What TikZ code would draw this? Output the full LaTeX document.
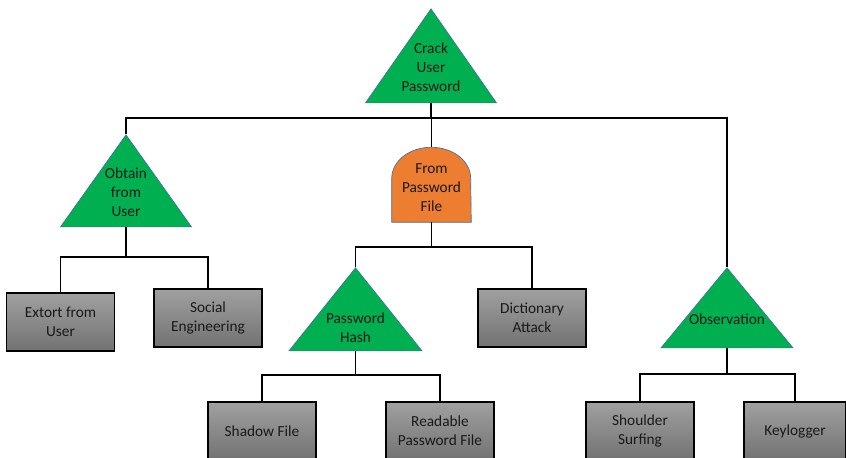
\documentclass[tikz,border=0pt]{standalone}
\usepackage{fontspec}
\setmainfont{Carlito}
\usetikzlibrary{shapes.geometric,positioning}

\definecolor{goalgreen}{HTML}{00B050}
\definecolor{gateorange}{HTML}{ED7D31}
\definecolor{rimblue}{HTML}{41719C}
\definecolor{leaftop}{HTML}{A0A0A0}
\definecolor{leafbot}{HTML}{727272}

\begin{document}
\begin{tikzpicture}[x=0.75pt,y=-0.75pt,on grid,
		font=\fontsize{11.5}{14.25}\selectfont,
		goal/.style={isosceles triangle,shape border rotate=90,isosceles triangle stretches,
			fill=goalgreen,draw=rimblue,line width=0.5pt,inner sep=0pt,anchor=apex},
		caption/.style={align=center,inner sep=0pt,text=black!90},
		orgate/.style={minimum width=59.25pt,minimum height=56.25pt,inner sep=0pt},
		leaf/.style={rectangle,draw=black,line width=0.8pt,top color=leaftop,bottom color=leafbot,
			minimum width=81pt,minimum height=43.5pt,inner sep=0pt,align=center,text=black!90},
		link/.style={line width=0.8pt}]
	\useasboundingbox (0,0) rectangle (846,457);

	% goals (triangles)
	\node[goal,minimum width=98.25pt,minimum height=70.5pt] (crack)  at (431,8)    {};
	\node[goal,minimum width=98.25pt,minimum height=69pt]   (obtain) at (126,134)  {};
	\node[goal,minimum width=99.75pt,minimum height=62.25pt](hash)   at (355.5,267){};
	\node[goal,minimum width=99pt,minimum height=60pt]      (observ) at (727,267)  {};

	\node[caption] (crackT)  at ([yshift=27pt]crack.lower side)     {Crack\\User\\Password};
	\node[caption] (obtainT) at ([yshift=26.25pt]obtain.lower side) {Obtain\\from\\User};
	\node[caption] (hashT)   at ([yshift=17.25pt]hash.lower side)   {Password\\Hash};
	\node[caption] (observT) at ([yshift=21.75pt]observ.lower side) {Observation};

	% password file gate with rounded top
	\node[orgate] (pwfile) at (431.5,184.5) {};
	\draw[fill=gateorange,draw=rimblue,line width=0.5pt]
		(pwfile.south west) -- ++(0,-44)
		arc[start angle=180,end angle=0,x radius=29.6pt,y radius=23.25pt]
		-- (pwfile.south east) -- cycle;
	\node[caption] (pwfileT) at ([yshift=-2.6pt]pwfile.center) {From\\Password\\File};

	% leaves
	\node[leaf] (extort)   at (60.5,322)  {Extort from\\User};
	\node[leaf] (social)   at (208,318)   {Social\\Engineering};
	\node[leaf] (dict)     at (532,318)   {Dictionary\\Attack};
	\node[leaf] (shadow)   at (262,431)   {Shadow File};
	\node[leaf] (readable) [right=133.5pt of shadow] {Readable\\Password File};
	\node[leaf] (shoulder) at (640,431)   {Shoulder\\Surfing};
	\node[leaf,minimum width=76.5pt] (keylog) at (795,431) {Keylogger};

	% junctions
	\coordinate (j0) at (431,118);
	\coordinate (j1) at (126,257);
	\coordinate (j2) at (431.5,247);
	\coordinate (j3) at (355.5,375);
	\coordinate (j4) at (727,374);

	\draw[link] (crack.lower side) -- (j0);
	\draw[link] (obtain.apex) |- (j0) -| (observ.apex);
	\draw[link] (j0 -| pwfile.north) -- (pwfile.north);
	\draw[link] (obtain.lower side) -- (j1);
	\draw[link] (extort.north) |- (j1) -| (social.north);
	\draw[link] (pwfile.south) -- (j2);
	\draw[link] (hash.apex) |- (j2) -| (dict.north);
	\draw[link] (hash.lower side) -- (j3);
	\draw[link] (shadow.north) |- (j3) -| (readable.north);
	\draw[link] (observ.lower side) -- (j4);
	\draw[link] (shoulder.north) |- (j4) -| (keylog.north);
\end{tikzpicture}
\end{document}
